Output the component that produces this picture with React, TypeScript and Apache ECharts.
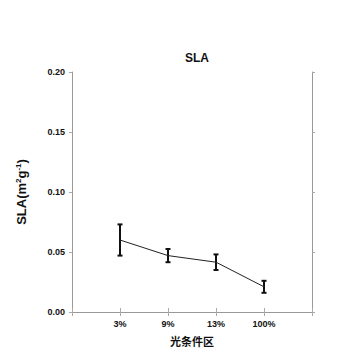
import React, { useEffect, useRef } from "react";
import * as echarts from "echarts";

const categories = ["", "3%", "9%", "13%", "100%", ""];
const meanValues = [null, 0.06, 0.047, 0.0415, 0.021, null];
const errValues = [null, 0.013, 0.0055, 0.0065, 0.005, null];

export default function App() {
  const ref = useRef<HTMLDivElement>(null);
  useEffect(() => {
    const chart = echarts.init(ref.current!, null, { renderer: "svg" });
    const errData = meanValues
      .map((m, i) => (m == null ? null : [i, m - (errValues[i] as number), m + (errValues[i] as number)]))
      .filter((d) => d != null);
    const font = "'Liberation Sans', Arial, sans-serif";
    chart.setOption({
      animation: false,
      title: {
        text: "SLA",
        left: 192,
        textAlign: "center",
        top: 47,
        textStyle: { fontFamily: font, fontWeight: "bold", fontSize: 12, color: "#111" },
      },
      grid: { left: 72, right: 48, top: 72, bottom: 48 },
      xAxis: [
        {
          type: "category",
          data: categories,
          boundaryGap: false,
          position: "bottom",
          axisLine: { lineStyle: { color: "#999", width: 1 } },
          axisTick: { inside: true, length: 4, lineStyle: { color: "#aaa" } },
          axisLabel: { fontFamily: font, fontWeight: "bold", fontSize: 9, color: "#111", margin: 7 },
          name: "光条件区",
          nameLocation: "middle",
          nameGap: 23,
          nameTextStyle: { fontFamily: "'Noto Sans CJK SC', sans-serif", fontWeight: "bold", fontSize: 11, color: "#111" },
          splitLine: { show: false },
        },
        {
          type: "category",
          data: categories,
          boundaryGap: false,
          position: "top",
          axisLine: { lineStyle: { color: "#999", width: 1 } },
          axisTick: { inside: true, length: 4, lineStyle: { color: "#aaa" } },
          axisLabel: { show: false },
          splitLine: { show: false },
        },
      ],
      yAxis: [
        {
          type: "value",
          min: 0,
          max: 0.2,
          interval: 0.05,
          position: "left",
          axisLine: { show: true, lineStyle: { color: "#999", width: 1 } },
          axisTick: { show: true, length: 3, lineStyle: { color: "#aaa" } },
          axisLabel: {
            fontFamily: font,
            fontWeight: "bold",
            fontSize: 9,
            color: "#111",
            margin: 7,
            formatter: (v: number) => v.toFixed(2),
          },
          splitLine: { show: false },
          name: "{a|SLA(m}{s|2}{a|g}{s|-1}{a|)}",
          nameLocation: "middle",
          nameGap: 43,
          nameTextStyle: {
            rich: {
              a: { fontFamily: font, fontWeight: "bold", fontSize: 13, color: "#111" },
              s: { fontFamily: font, fontWeight: "bold", fontSize: 8, color: "#111", verticalAlign: "top", padding: [0, 0, 7, 0] },
            },
          },
        },
        {
          type: "value",
          min: 0,
          max: 0.2,
          interval: 0.05,
          position: "right",
          axisLine: { show: true, lineStyle: { color: "#999", width: 1 } },
          axisTick: { show: true, length: 3, lineStyle: { color: "#aaa" } },
          axisLabel: { show: false },
          splitLine: { show: false },
        },
      ],
      series: [
        {
          type: "line",
          data: meanValues,
          symbol: "none",
          lineStyle: { color: "#222", width: 1 },
          connectNulls: false,
        },
        {
          type: "custom",
          data: errData,
          renderItem: (params: any, api: any) => {
            const x = api.value(0);
            const lo = api.coord([x, api.value(1)]);
            const hi = api.coord([x, api.value(2)]);
            const cap = 2.5;
            const style = { stroke: "#111", lineWidth: 2 };
            return {
              type: "group",
              children: [
                { type: "line", shape: { x1: lo[0], y1: lo[1], x2: hi[0], y2: hi[1] }, style },
                { type: "line", shape: { x1: lo[0] - cap, y1: lo[1], x2: lo[0] + cap, y2: lo[1] }, style },
                { type: "line", shape: { x1: hi[0] - cap, y1: hi[1], x2: hi[0] + cap, y2: hi[1] }, style },
              ],
            };
          },
          z: 3,
        },
      ],
    });
    return () => chart.dispose();
  }, []);
  return <div ref={ref} style={{ width: 360, height: 360, position: "absolute", left: 0, top: 0 }} />;
}
